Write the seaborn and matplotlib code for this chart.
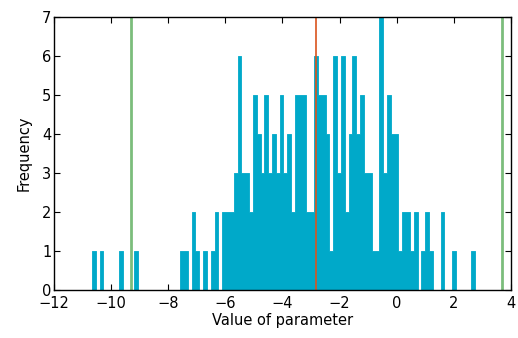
import numpy as np
import pandas as pd
import matplotlib
matplotlib.use("Agg")
import matplotlib.pyplot as plt
import seaborn as sns

# Histogram of the sampled parameter: 100 equal-width bins
bin_low = -10.67
bin_high = 2.74
counts = [
    1, 0, 1, 0, 0, 0, 0, 1, 0, 0,
    0, 1, 0, 0, 0, 0, 0, 0, 0, 0,
    0, 0, 0, 1, 1, 0, 2, 1, 0, 1,
    0, 1, 2, 0, 2, 2, 2, 3, 6, 3,
    3, 2, 5, 4, 3, 5, 3, 4, 3, 5,
    3, 4, 2, 5, 5, 5, 2, 2, 6, 5,
    5, 4, 1, 6, 3, 6, 2, 4, 6, 4,
    5, 3, 3, 1, 1, 7, 3, 5, 4, 4,
    1, 2, 2, 1, 2, 0, 1, 2, 1, 0,
    0, 2, 0, 0, 1, 0, 0, 0, 0, 1,
]
mean_value = -2.81
interval = [-9.30, 3.68]

x_ticks = [-12, -10, -8, -6, -4, -2, 0, 2, 4]
y_ticks = [0, 1, 2, 3, 4, 5, 6, 7]

edges = np.linspace(bin_low, bin_high, len(counts) + 1)
centers = (edges[:-1] + edges[1:]) / 2
df = pd.DataFrame({"value": centers, "count": counts})

sns.set_theme(style="white")
plt.rcParams.update({
    "font.family": ["DejaVu Sans"],
    "xtick.direction": "in",
    "ytick.direction": "in",
    "xtick.top": True,
    "ytick.right": True,
    "xtick.bottom": True,
    "ytick.left": True,
    "xtick.major.size": 4,
    "ytick.major.size": 4,
    "xtick.major.width": 0.8,
    "ytick.major.width": 0.8,
    "xtick.color": "black",
    "ytick.color": "black",
    "axes.edgecolor": "black",
    "axes.linewidth": 1.0,
    "axes.labelcolor": "black",
})

fig = plt.figure(figsize=(5.18, 3.38), dpi=100)
ax = fig.add_axes([0.1042, 0.142, 0.8823, 0.8077])

bar_color = "#00a9c9"
sns.histplot(data=df, x="value", weights="count", bins=edges.tolist(), ax=ax,
             element="step", fill=True, color=bar_color, alpha=1.0,
             edgecolor=bar_color, linewidth=0.6)

ax.axvline(mean_value, color="#d9541e", linewidth=1.2)
for v in interval:
    ax.axvline(v, color="#7cbd7c", linewidth=2.0)

ax.set_xlim(-12, 4)
ax.set_ylim(0, 7)
ax.set_xticks(x_ticks)
ax.set_yticks(y_ticks)
ax.tick_params(axis="x", labelsize=10.5, pad=4.5)
ax.tick_params(axis="y", labelsize=10.5, pad=2)
ax.set_xlabel("Value of parameter", fontsize=10.5, labelpad=1)
ax.set_ylabel("Frequency", fontsize=10.5, labelpad=7)

fig.savefig("out.png", dpi=100)
